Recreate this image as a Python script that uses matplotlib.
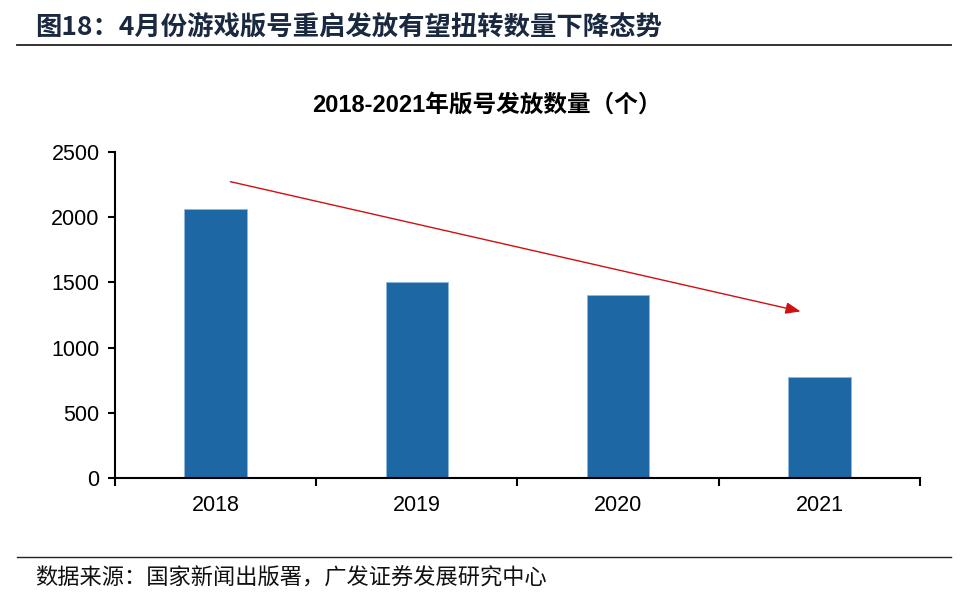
import matplotlib.pyplot as plt
from matplotlib.lines import Line2D

plt.rcParams['font.family'] = ['Liberation Sans', 'Noto Sans CJK SC', 'DejaVu Sans']

# data
years = ['2018', '2019', '2020', '2021']
approvals = [2064, 1505, 1405, 774]
yticks = [0, 500, 1000, 1500, 2000, 2500]

fig = plt.figure(figsize=(9.74, 6.06), dpi=100)
ax = fig.add_axes([0.118, 0.2112, 0.8266, 0.5378])

x = range(len(years))
ax.bar(x, approvals, width=0.31, color='#1d67a4', edgecolor='#8fb8dd', linewidth=0.6, zorder=2)

ax.set_xlim(-0.5, len(years) - 0.5)
ax.set_ylim(0, 2500)
ax.set_yticks(yticks)
ax.set_xticks(list(x))
ax.set_xticklabels(years)
ax.set_xticks([i + 0.5 for i in range(-1, len(years))], minor=True)
ax.tick_params(axis='x', which='major', length=0, pad=12, labelsize=15.5)
ax.tick_params(axis='x', which='minor', length=6, width=1.5, direction='out')
ax.tick_params(axis='y', length=5, width=1.5, direction='out', labelsize=15.5, pad=6)
for s in ['top', 'right']:
    ax.spines[s].set_visible(False)
for s in ['left', 'bottom']:
    ax.spines[s].set_linewidth(1.5)

# chart title sits a bit left of the axes centre
fig.text(0.5, 0.826, '2018-2021年版号发放数量（个）', fontsize=17, fontweight='bold',
         ha='center', va='center', family=['Liberation Sans', 'Noto Sans CJK SC'])

# trend arrow
ax.annotate('', xy=(2.92, 1273), xytext=(0.06, 2278),
            arrowprops=dict(arrowstyle='-|>,head_length=0.9,head_width=0.35',
                            color='#d01010', lw=1.0))

# header and footer
fig.text(0.036, 0.955, '图18：4月份游戏版号重启发放有望扭转数量下降态势', fontsize=19,
         fontweight='bold', color='#1a2840', va='center',
         family=['Noto Sans CJK SC', 'DejaVu Sans'])
fig.add_artist(Line2D([0.017, 0.976], [0.925, 0.925], color='#222222', lw=1.3))
fig.add_artist(Line2D([0.017, 0.976], [0.081, 0.081], color='#222222', lw=1.0))
fig.text(0.036, 0.046, '数据来源：国家新闻出版署，广发证券发展研究中心', fontsize=16,
         color='#111111', va='center', family=['Noto Sans CJK SC', 'DejaVu Sans'])

fig.savefig('out.png', dpi=100)
